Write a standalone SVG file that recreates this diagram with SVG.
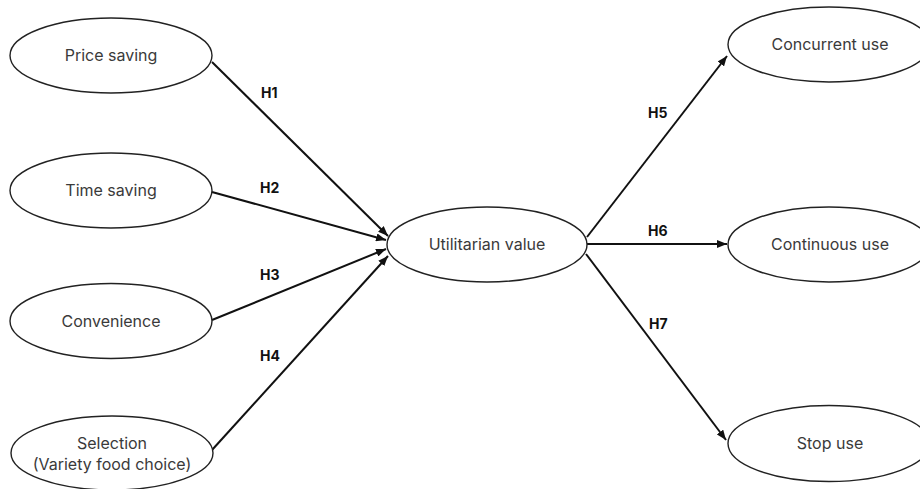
<svg xmlns="http://www.w3.org/2000/svg" width="920" height="489" viewBox="0 0 920 489">
<defs>
<style>
.node ellipse{fill:#fff;stroke:#222;stroke-width:1.4}
.node text{font-family:Inter,"Liberation Sans",sans-serif;font-size:16px;fill:#3a3a3a;text-anchor:middle}
.conn line{stroke:#111;stroke-width:2;marker-end:url(#ah)}
.lbl{font-family:Inter,"Liberation Sans",sans-serif;font-size:14px;font-weight:bold;fill:#111}
</style>
<marker id="ah" viewBox="0 0 10 8" refX="10" refY="4" markerWidth="10" markerHeight="8" markerUnits="userSpaceOnUse" orient="auto">
<path d="M0,0 L10,4 L0,8 z" fill="#111"/>
</marker>
</defs>
<rect width="920" height="489" fill="#fff"/>
<g id="connectors" class="conn">
<line x1="212" y1="62" x2="388" y2="236"/>
<line x1="212" y1="192" x2="386" y2="240"/>
<line x1="212" y1="320" x2="386" y2="249"/>
<line x1="212" y1="450" x2="388" y2="256"/>
<line x1="587" y1="237" x2="727" y2="56"/>
<line x1="587" y1="244" x2="727" y2="244"/>
<line x1="586" y1="254" x2="726" y2="440"/>
<text class="lbl" x="261" y="98">H1</text>
<text class="lbl" x="260" y="193">H2</text>
<text class="lbl" x="260" y="280">H3</text>
<text class="lbl" x="260" y="361">H4</text>
<text class="lbl" x="648" y="118">H5</text>
<text class="lbl" x="648" y="236">H6</text>
<text class="lbl" x="649" y="329">H7</text>
</g>
<g id="price" class="node"><ellipse cx="111" cy="55.5" rx="101" ry="37.5"/><text x="111" y="61">Price saving</text></g>
<g id="time" class="node"><ellipse cx="111" cy="190.5" rx="101" ry="37.5"/><text x="111" y="196">Time saving</text></g>
<g id="convenience" class="node"><ellipse cx="111" cy="321" rx="101" ry="37.5"/><text x="111" y="327">Convenience</text></g>
<g id="selection" class="node"><ellipse cx="112" cy="453" rx="101" ry="37"/><text x="112" y="449">Selection</text><text x="112" y="470">(Variety food choice)</text></g>
<g id="utilitarian" class="node"><ellipse cx="487" cy="244.5" rx="100" ry="37.5"/><text x="487" y="250">Utilitarian value</text></g>
<g id="concurrent" class="node"><ellipse cx="829" cy="44.5" rx="101" ry="37.5"/><text x="830" y="50">Concurrent use</text></g>
<g id="continuous" class="node"><ellipse cx="829" cy="244.5" rx="101" ry="37.5"/><text x="830" y="250">Continuous use</text></g>
<g id="stop" class="node"><ellipse cx="829" cy="443.5" rx="101" ry="38"/><text x="830" y="449">Stop use</text></g>
</svg>
